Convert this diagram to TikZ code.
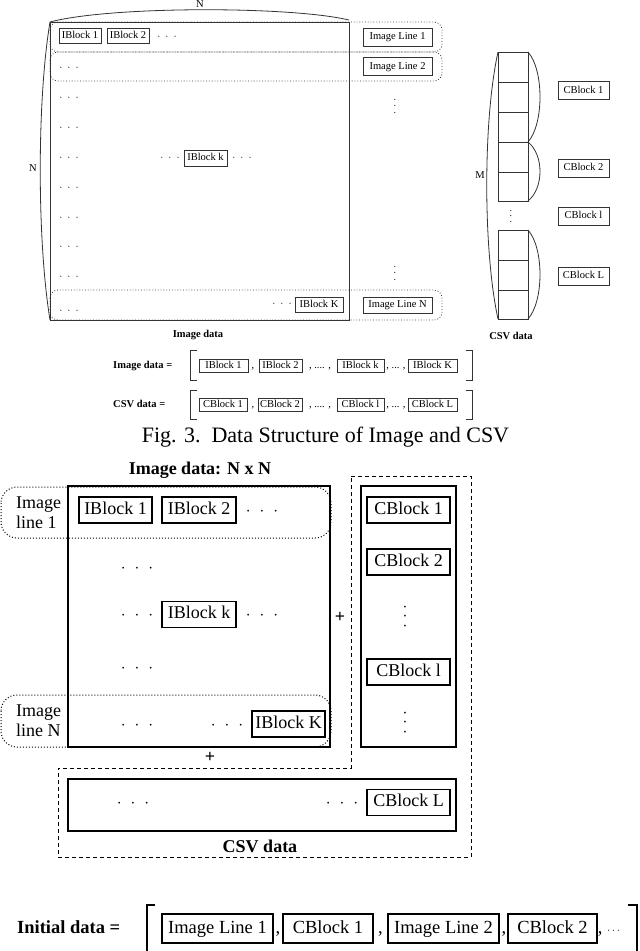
\documentclass[tikz,border=0pt]{standalone}
\usepackage{fontspec}
\setmainfont{Liberation Serif}
\newcommand{\mydots}[1]{$\cdot$\hspace{#1}$\cdot$\hspace{#1}$\cdot$}
\begin{document}
\begin{tikzpicture}[x=1pt,y=-1pt,
  tl/.style={draw=black!80, line width=0.8pt},
  rowd/.style={draw=black!80, line width=0.8pt, dotted, rounded corners=8pt},
  sfont/.style={font=\fontsize{10.5}{12}\selectfont},
  sbox/.style={draw=black!80, line width=0.9pt, inner sep=0pt, sfont, text height=7.5pt, text depth=2.2pt},
  stxt/.style={inner sep=0pt, sfont, text height=7.5pt, text depth=2.2pt},
  fbox/.style={sbox, minimum height=13pt},
  bfont/.style={font=\fontsize{18}{20}\selectfont},
  bbox/.style={draw, line width=1.1pt, inner sep=0pt, bfont, text height=12.5pt, text depth=4pt, minimum height=26pt},
  btxt/.style={inner sep=0pt, bfont, text height=12.5pt, text depth=4pt},
  bl/.style={draw, line width=1.1pt},
  ifont/.style={font=\fontsize{18.5}{20}\selectfont},
  ibox/.style={draw, line width=1.1pt, inner sep=0pt, ifont, text height=13pt, text depth=4pt, minimum height=29pt},
  itxt/.style={inner sep=0pt, ifont, text height=13pt, text depth=4pt}
]
\useasboundingbox (0,0) rectangle (640,951);

% ---------------- top figure: image data ----------------
\draw[tl] (50,22) rectangle (349,320);
\draw[rowd] (50,22) rectangle (442,52);
\draw[rowd] (50,52) rectangle (442,81);
\draw[rowd] (50,290) rectangle (442,320);
\draw[tl] (50,22) .. controls (110,6) and (290,6) .. (349,20);
\node[sfont] (ntop) at (200,4) {N};
\draw[tl] (50,22) .. controls (37,100) and (37,240) .. (50,320);
\node[sfont] (nleft) at (33,168) {N};

\node[sbox, minimum width=42pt, minimum height=15pt] (ib1) at (80,35.5) {IBlock 1};
\node[sbox, minimum width=42pt, minimum height=15pt] (ib2) at (128,35.5) {IBlock 2};
\node[stxt] (d0) at (167,37) {\mydots{5pt}};
\foreach \yy [count=\i] in {68,97.5,127.5,157.5,187.5,217.5,246.5,276.5,310.5}
  \node[stxt] (ld\i) at (69,\yy) {\mydots{5pt}};
\node[sbox, minimum width=43pt, minimum height=16pt] (ibk) at (205.5,158) {IBlock k};
\node[stxt] (dk1) at (170,158) {\mydots{5pt}};
\node[stxt] (dk2) at (242,158) {\mydots{5pt}};
\node[sbox, minimum width=48pt, minimum height=15pt] (ibK) at (319,304.5) {IBlock K};
\node[stxt] (dK) at (282,304) {\mydots{5pt}};

\node[sbox, minimum width=69pt, minimum height=18pt] (il1) at (397.5,37) {Image Line 1};
\node[sbox, minimum width=69pt, minimum height=18pt] (il2) at (397.5,66.5) {Image Line 2};
\node[sbox, minimum width=69pt, minimum height=16pt] (ilN) at (397.5,305) {Image Line N};
\node[stxt, rotate=90] (vd1) at (395,106) {\mydots{3.5pt}};
\node[stxt, rotate=90] (vd2) at (395,273) {\mydots{3.5pt}};
\node[font=\fontsize{10.5}{12}\selectfont\bfseries] (imglab) at (198,335) {Image data};

% ---------------- top figure: CSV data ----------------
\draw[tl] (498,52) rectangle (528,201);
\foreach \yy in {82,112,142,172} \draw[tl] (498,\yy) -- (528,\yy);
\draw[tl] (498,230) rectangle (528,319);
\foreach \yy in {260,290} \draw[tl] (498,\yy) -- (528,\yy);
\draw[tl] (528,52) .. controls (544,70) and (544,124) .. (528,142);
\draw[tl] (528,142) .. controls (544,155) and (544,188) .. (528,201);
\draw[tl] (528,230) .. controls (544,248) and (544,301) .. (528,319);
\draw[tl] (498,52) .. controls (483,120) and (483,250) .. (498,319);
\node[sfont] (mlab) at (480,175) {M};
\node[stxt, rotate=90] (vd3) at (511,216) {\mydots{2.5pt}};
\node[sbox, minimum width=51pt, minimum height=18pt] (cb1) at (583.5,90.5) {CBlock 1};
\node[sbox, minimum width=51pt, minimum height=18pt] (cb2) at (583.5,168) {CBlock 2};
\node[sbox, minimum width=51pt, minimum height=18pt] (cbl) at (583.5,216) {CBlock l};
\node[sbox, minimum width=51pt, minimum height=18pt] (cbL) at (583.5,276) {CBlock L};
\node[font=\fontsize{10.5}{12}\selectfont\bfseries] (csvlab) at (511,336) {CSV data};

% ---------------- formula rows ----------------
\node[stxt, font=\fontsize{10.5}{12}\selectfont\bfseries, anchor=west] (fimg) at (113,366) {Image data =};
\draw[tl] (197,350) -- (190,350) -- (190,380) -- (197,380);
\draw[tl] (466,350) -- (472,350) -- (472,380) -- (466,380);
\node[fbox, minimum width=49pt] (f1) at (223.5,366) {IBlock 1};
\node[stxt] (fc1) at (253,366) {,};
\node[fbox, minimum width=43pt] (f2) at (280.5,366) {IBlock 2};
\node[stxt] (fc2) at (320,366) {, .... ,};
\node[fbox, minimum width=47pt] (f3) at (360.5,366) {IBlock k};
\node[stxt] (fc3) at (396,366) {, ... ,};
\node[fbox, minimum width=49pt] (f4) at (432.5,366) {IBlock K};

\node[stxt, font=\fontsize{10.5}{12}\selectfont\bfseries, anchor=west] (fcsv) at (113,405) {CSV data =};
\draw[tl] (197,390) -- (190,390) -- (190,419) -- (197,419);
\draw[tl] (466,390) -- (472,390) -- (472,419) -- (466,419);
\node[fbox, minimum width=48pt] (g1) at (223,404.5) {CBlock 1};
\node[stxt] (gc1) at (253,404.5) {,};
\node[fbox, minimum width=44pt] (g2) at (280,404.5) {CBlock 2};
\node[stxt] (gc2) at (320,404.5) {, .... ,};
\node[fbox, minimum width=47pt] (g3) at (360.5,404.5) {CBlock l};
\node[stxt] (gc3) at (396,404.5) {, ... ,};
\node[fbox, minimum width=49pt] (g4) at (432.5,404.5) {CBlock L};

\node[font=\fontsize{22}{24}\selectfont] (cap) at (325.5,437) {Fig. 3.\ \ Data Structure of Image and CSV};

% ---------------- bottom figure ----------------
\node[font=\fontsize{18}{20}\selectfont\bfseries] (btitle) at (200,470) {Image data: N x N};
\draw[bl] (68,486) rectangle (330,747);
\draw[line width=1pt, dotted, rounded corners=16pt] (1,487) rectangle (331,538);
\draw[line width=1pt, dotted, rounded corners=16pt] (1,695) rectangle (331,747);
\node[bfont, align=left, anchor=west, inner sep=0pt] (il1b) at (16,512.5) {Image\\line 1};
\node[bfont, align=left, anchor=west, inner sep=0pt] (ilNb) at (16,721) {Image\\line N};

\node[bbox, minimum width=73pt] (B1) at (115.5,510) {IBlock 1};
\node[bbox, minimum width=74pt] (B2) at (199,510) {IBlock 2};
\node[btxt] (bd1) at (262,511) {\mydots{9pt}};
\node[btxt] (bd2) at (137,568) {\mydots{9pt}};
\node[btxt] (bd3) at (137,615) {\mydots{9pt}};
\node[bbox, minimum width=74pt] (Bk) at (199,614.5) {IBlock k};
\node[btxt] (bd4) at (262,615) {\mydots{9pt}};
\node[btxt] (bd5) at (137,668) {\mydots{9pt}};
\node[btxt] (bd6) at (137,725) {\mydots{9pt}};
\node[btxt] (bd7) at (227,725) {\mydots{9pt}};
\node[bbox, minimum width=73pt] (BK) at (288.5,724) {IBlock K};

\node[font=\fontsize{18}{20}\selectfont\bfseries] (plus1) at (340,617) {+};
\node[font=\fontsize{18}{20}\selectfont\bfseries] (plus2) at (210,757) {+};

\draw[line width=1pt, dash pattern=on 4pt off 3pt] (351,476) -- (471,476) -- (471,857) -- (58,857) -- (58,768) -- (351,768) -- cycle;
\draw[bl] (361,486) rectangle (456,747);
\node[bbox, minimum width=83pt] (C1) at (408.5,510) {CBlock 1};
\node[bbox, minimum width=83pt] (C2) at (408.5,562) {CBlock 2};
\node[btxt, rotate=90] (cv1) at (405,616.5) {\mydots{5pt}};
\node[bbox, minimum width=83pt] (Cl) at (408.5,672) {CBlock l};
\node[btxt, rotate=90] (cv2) at (405,722.5) {\mydots{5pt}};

\draw[bl] (68,779) rectangle (456,831);
\node[btxt] (cd1) at (133,803) {\mydots{9pt}};
\node[btxt] (cd2) at (342,803) {\mydots{9pt}};
\node[bbox, minimum width=83pt] (CL) at (408.5,802.5) {CBlock L};
\node[font=\fontsize{18}{20}\selectfont\bfseries] (csvb) at (260,846) {CSV data};

% ---------------- initial data row ----------------
\node[itxt, font=\fontsize{18.5}{20}\selectfont\bfseries, anchor=west] (init) at (17,928.5) {Initial data =};
\draw[line width=1.1pt] (155,905) -- (147,905) -- (147,952);
\draw[line width=1.1pt] (628,905) -- (637,905) -- (637,952);
\node[ibox, minimum width=111pt] (J1) at (217.5,928.5) {Image Line 1};
\node[itxt] (jc1) at (278,928.5) {,};
\node[ibox, minimum width=90pt] (J2) at (328,928.5) {CBlock 1};
\node[itxt] (jc2) at (380.5,928.5) {,};
\node[ibox, minimum width=111pt] (J3) at (443.5,928.5) {Image Line 2};
\node[itxt] (jc3) at (504,928.5) {,};
\node[ibox, minimum width=89pt] (J4) at (552.5,928.5) {CBlock 2};
\node[itxt] (jc4) at (609,928.5) {, {\fontsize{11}{12}\selectfont$\cdots$}};
\end{tikzpicture}
\end{document}
